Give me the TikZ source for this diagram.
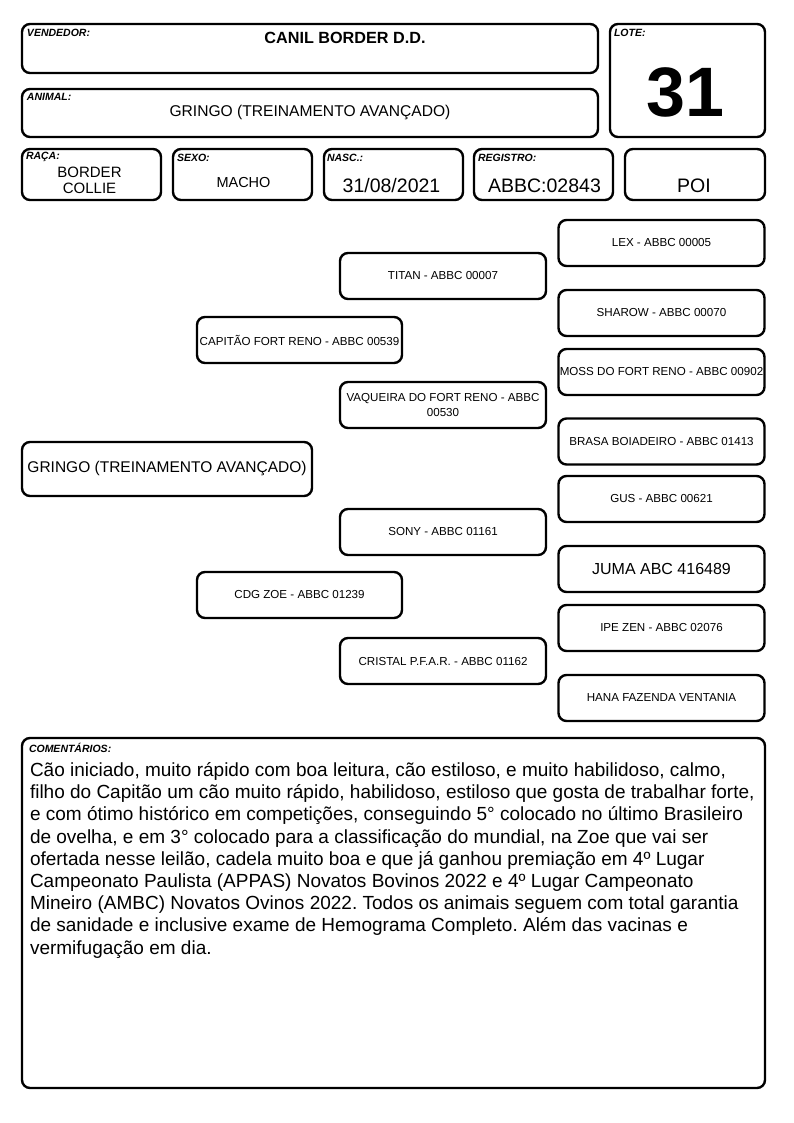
\documentclass[tikz,border=0pt]{standalone}
\usepackage{fontspec}
\setmainfont{Liberation Sans}
\frenchspacing
\begin{document}
\begin{tikzpicture}[
		x=1pt, y=-1pt,
		box/.style={draw, line width=2.4pt, rounded corners=8pt, inner sep=0pt, align=center},
		tag/.style={anchor=north west, inner sep=0pt, font=\fontsize{10.5}{11}\selectfont\bfseries\itshape},
		val/.style={inner sep=0pt, align=center, font=\fontsize{14.5}{17}\selectfont},
		bigval/.style={inner sep=0pt, font=\fontsize{19.5}{22}\selectfont},
		ped/.style={box, minimum width=206pt, minimum height=46pt, font=\fontsize{11.6}{14.5}\selectfont}
	]
	\path[fill=white] (0,0) rectangle (794,1123);
	% cabecalho
	\node[box, minimum width=576pt, minimum height=49pt] (vend) at (310,48.5) {};
	\node[box, minimum width=155pt, minimum height=113pt] (lote) at (687.5,80.5) {};
	\node[box, minimum width=576pt, minimum height=48pt, font=\fontsize{15.6}{18}\selectfont] (animal) at (310,113) {GRINGO (TREINAMENTO AVANÇADO)};
	\node[box, minimum width=139pt, minimum height=51pt] (raca) at (91.5,174.5) {};
	\node[box, minimum width=139pt, minimum height=51pt] (sexo) at (242.5,174.5) {};
	\node[box, minimum width=139pt, minimum height=51pt] (nasc) at (393.5,174.5) {};
	\node[box, minimum width=139pt, minimum height=51pt] (regis) at (543.5,174.5) {};
	\node[box, minimum width=140pt, minimum height=51pt] (poi) at (695,174.5) {};
	\node[tag] at ([xshift=6pt,yshift=-6pt]vend.north west) {VENDEDOR:};
	\node[tag] at ([xshift=5pt,yshift=-6pt]lote.north west) {LOTE:};
	\node[tag] at ([xshift=6pt,yshift=-5pt]animal.north west) {ANIMAL:};
	\node[tag] at ([xshift=5pt,yshift=-4pt]raca.north west) {RAÇA:};
	\node[tag] at ([xshift=5pt,yshift=-6pt]sexo.north west) {SEXO:};
	\node[tag] at ([xshift=4pt,yshift=-6pt]nasc.north west) {NASC.:};
	\node[tag] at ([xshift=5pt,yshift=-6pt]regis.north west) {REGISTRO:};
	\node[val, font=\fontsize{16.2}{18}\selectfont\bfseries] at ([xshift=35pt,yshift=10.5pt]vend.center) {CANIL BORDER D.D.};
	\node[inner sep=0pt, font=\fontsize{70}{70}\selectfont\bfseries] at ([xshift=-2pt,yshift=-11.5pt]lote.center) {31};
	\node[val, font=\fontsize{15}{16.5}\selectfont] at ([xshift=-2pt,yshift=-6pt]raca.center) {BORDER\\COLLIE};
	\node[val] at ([xshift=1pt,yshift=-8.5pt]sexo.center) {MACHO};
	\node[bigval] at ([xshift=-2pt,yshift=-11.5pt]nasc.center) {31/08/2021};
	\node[bigval] at ([xshift=1pt,yshift=-11.5pt]regis.center) {ABBC:02843};
	\node[bigval] at ([xshift=-1pt,yshift=-11.5pt]poi.center) {POI};
	% genealogia
	\node[box, minimum width=290pt, minimum height=54pt, font=\fontsize{15.5}{18}\selectfont] (gringo) at (167,469) {GRINGO (TREINAMENTO AVANÇADO)};
	\node[ped, minimum width=205pt] (capitao) at (299.5,340) {CAPITÃO FORT RENO - ABBC 00539};
	\node[ped, minimum width=205pt] (zoe) at (299.5,595) {CDG ZOE - ABBC 01239};
	\node[ped] (titan) at (443,276) {TITAN - ABBC 00007};
	\node[ped] (vaqueira) at (443,405) {VAQUEIRA DO FORT RENO - ABBC\\00530};
	\node[ped] (sony) at (443,532) {SONY - ABBC 01161};
	\node[ped] (cristal) at (443,661) {CRISTAL P.F.A.R. - ABBC 01162};
	\node[ped] (lex) at (661.5,243) {LEX - ABBC 00005};
	\node[ped] (sharow) at (661.5,313) {SHAROW - ABBC 00070};
	\node[ped] (moss) at (661.5,372) {MOSS DO FORT RENO - ABBC 00902};
	\node[ped] (brasa) at (661.5,441.5) {BRASA BOIADEIRO - ABBC 01413};
	\node[ped] (gus) at (661.5,499) {GUS - ABBC 00621};
	\node[ped, font=\fontsize{16}{18}\selectfont] (juma) at (661.5,569) {JUMA ABC 416489};
	\node[ped] (ipe) at (661.5,628) {IPE ZEN - ABBC 02076};
	\node[ped] (hana) at (661.5,698) {HANA FAZENDA VENTANIA};
	% comentarios
	\node[box, minimum width=743pt, minimum height=350pt] (coment) at (393.5,913) {};
	\node[tag] at ([xshift=8pt,yshift=-6pt]coment.north west) {COMENTÁRIOS:};
	\node[anchor=north west, inner sep=0pt, align=left, font=\fontsize{19}{22.2}\selectfont] at ([xshift=9pt,yshift=-25.5pt]coment.north west) {Cão iniciado, muito rápido com boa leitura, cão estiloso, e muito habilidoso, calmo,\\
		filho do Capitão um cão muito rápido, habilidoso, estiloso que gosta de trabalhar forte,\\
		e com ótimo histórico em competições, conseguindo 5° colocado no último Brasileiro\\
		de ovelha, e em 3° colocado para a classificação do mundial, na Zoe que vai ser\\
		ofertada nesse leilão, cadela muito boa e que já ganhou premiação em 4º Lugar\\
		Campeonato Paulista (APPAS) Novatos Bovinos 2022 e 4º Lugar Campeonato\\
		Mineiro (AMBC) Novatos Ovinos 2022. Todos os animais seguem com total garantia\\
		de sanidade e inclusive exame de Hemograma Completo. Além das vacinas e\\
		vermifugação em dia.};
\end{tikzpicture}
\end{document}
